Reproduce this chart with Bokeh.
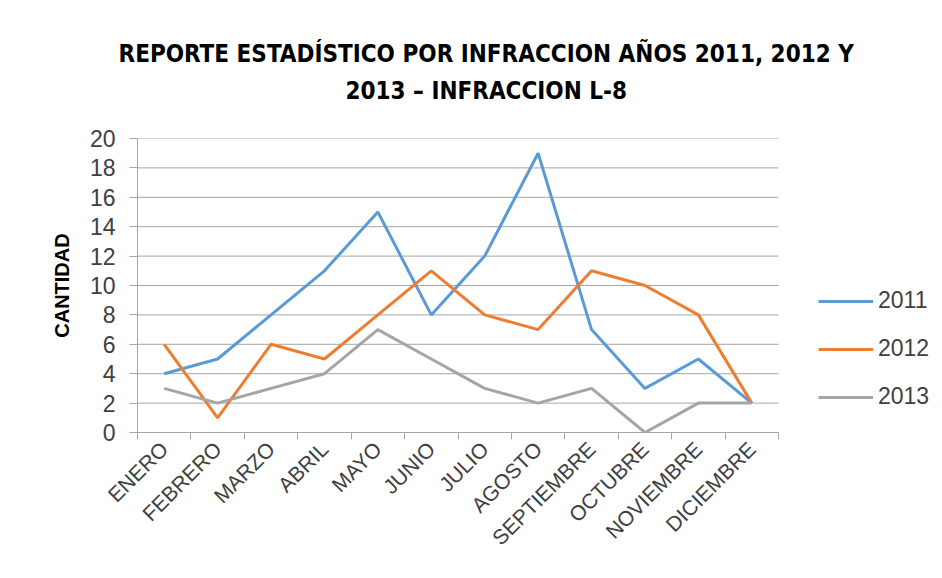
from bokeh.plotting import figure
from bokeh.models import Range1d, FixedTicker, Legend, LegendItem, Title
from bokeh.embed import file_html
from bokeh.resources import INLINE
import math

months = ["ENERO", "FEBRERO", "MARZO", "ABRIL", "MAYO", "JUNIO", "JULIO",
          "AGOSTO", "SEPTIEMBRE", "OCTUBRE", "NOVIEMBRE", "DICIEMBRE"]
s2011 = [4, 5, 8, 11, 15, 8, 12, 19, 7, 3, 5, 2]
s2012 = [6, 1, 6, 5, 8, 11, 8, 7, 11, 10, 8, 2]
s2013 = [3, 2, 3, 4, 7, 5, 3, 2, 3, 0, 2, 2]
series = [("2011", s2011, "#5B9BD5"), ("2012", s2012, "#ED7D31"), ("2013", s2013, "#A5A5A5")]
y_ticks = list(range(0, 21, 2))
y_max = 20
title1 = "REPORTE ESTADÍSTICO POR INFRACCION AÑOS 2011, 2012 Y"
title2 = "2013 – INFRACCION L-8"

n = len(months)
xs = [i + 0.5 for i in range(n)]

W, H = 942, 578
PLOT_L, PLOT_R, PLOT_T, PLOT_B = 137, 778, 138, 432
x_end = n * (W - PLOT_L) / (PLOT_R - PLOT_L)

p = figure(width=W, height=H, output_backend="svg", toolbar_location=None,
           x_range=Range1d(0, x_end), y_range=Range1d(0, y_max),
           min_border_left=PLOT_L, min_border_right=0, min_border_top=PLOT_T,
           min_border_bottom=H - PLOT_B, title=None)
p.background_fill_color = "white"
p.border_fill_color = "white"
p.outline_line_color = None

TF = "DejaVu Sans Condensed"
# spacer between the title block and the plot area
p.add_layout(Title(text=" ", text_font=TF, text_font_size="24px", standoff=0), "above")
p.add_layout(Title(text=title2, align="left", offset=208, text_font=TF,
                   text_font_size="24px", text_font_style="bold", text_color="#000000",
                   standoff=7), "above")
p.add_layout(Title(text=title1, align="left", offset=-19, text_font=TF,
                   text_font_size="24px", text_font_style="bold", text_color="#000000",
                   standoff=7), "above")

p.segment(x0=[0] * len(y_ticks), y0=y_ticks, x1=[n] * len(y_ticks), y1=y_ticks,
          line_color="#A6A6A6", line_width=1)

renderers = []
for name, vals, col in series:
    r = p.line(xs, vals, line_color=col, line_width=3)
    renderers.append((name, r))

p.yaxis.ticker = FixedTicker(ticks=y_ticks)
p.yaxis.axis_line_color = "#A6A6A6"
p.yaxis.major_tick_line_color = "#A6A6A6"
p.yaxis.major_tick_out = 8
p.yaxis.major_tick_in = 0
p.yaxis.minor_tick_line_color = None
p.yaxis.major_label_text_font = "Liberation Sans"
p.yaxis.major_label_text_font_size = "23px"
p.yaxis.major_label_text_color = "#404040"
p.yaxis.major_label_standoff = 14
p.yaxis.axis_label = "CANTIDAD"
p.yaxis.axis_label_text_font = "Liberation Sans"
p.yaxis.axis_label_text_font_size = "20px"
p.yaxis.axis_label_text_font_style = "bold"
p.yaxis.axis_label_text_color = "#000000"
p.yaxis.axis_label_standoff = 14

p.xaxis.bounds = (0, n)
p.xaxis.ticker = FixedTicker(ticks=xs, minor_ticks=list(range(0, n + 1)))
p.xaxis.major_label_overrides = {x: m for x, m in zip(xs, months)}
p.xaxis.axis_line_color = "#A6A6A6"
p.xaxis.major_tick_line_color = None
p.xaxis.minor_tick_line_color = "#A6A6A6"
p.xaxis.minor_tick_out = 7
p.xaxis.minor_tick_in = 0
p.xaxis.major_label_orientation = math.pi / 4
p.xaxis.major_label_text_font = "Liberation Sans"
p.xaxis.major_label_text_font_size = "21px"
p.xaxis.major_label_text_color = "#404040"
p.xaxis.major_label_standoff = 6

p.xgrid.visible = False
p.ygrid.visible = False

legend = Legend(items=[LegendItem(label=nm, renderers=[r]) for nm, r in renderers],
                location=(681, 22), orientation="vertical", margin=0,
                glyph_width=55, glyph_height=20, label_height=20,
                label_standoff=5, spacing=21, padding=0,
                label_text_font="Liberation Sans", label_text_font_size="23px",
                label_text_color="#404040",
                border_line_color=None, background_fill_alpha=0)
p.add_layout(legend, "center")

open("out.html", "w").write(file_html(p, INLINE))
